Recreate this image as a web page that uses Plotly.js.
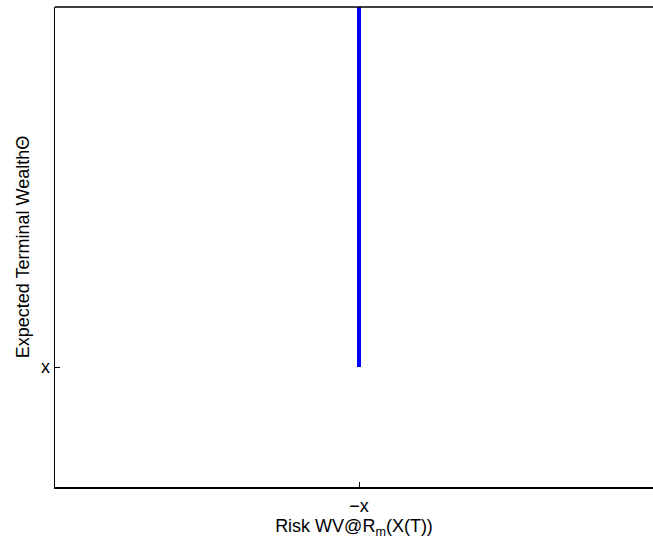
<!DOCTYPE html>
<html>
<head>
<meta charset="utf-8">
<script src="https://cdn.plot.ly/plotly-3.0.1.min.js"></script>
<style>html,body{margin:0;padding:0;background:#fff;}#chart{width:653px;height:540px;}</style>
</head>
<body>
<div id="chart"></div>
<script>
// Data (symbolic axes: the line sits at risk = -x, starting at wealth = x)
const riskValues = [-1, -1];
const wealthValues = [1, 4];
const xTickVals = [-1];
const xTickText = ['\u2212x'];
const yTickVals = [1];
const yTickText = ['x'];

const trace = {
  x: riskValues,
  y: wealthValues,
  type: 'scatter',
  mode: 'lines',
  line: {color: '#0000ff', width: 4},
  hoverinfo: 'skip',
  cliponaxis: false
};

const font = {family: 'Liberation Sans, Arial, Helvetica, sans-serif', size: 18, color: '#000'};

const layout = {
  width: 653,
  height: 540,
  margin: {l: 55, r: 0, t: 7, b: 53, pad: 0},
  paper_bgcolor: '#fff',
  plot_bgcolor: '#fff',
  showlegend: false,
  font: font,
  xaxis: {
    range: [-2, -0.033],
    tickvals: xTickVals,
    ticktext: xTickText,
    ticks: 'inside',
    ticklen: 5,
    tickcolor: '#000',
    tickwidth: 1,
    showline: true,
    linecolor: '#000',
    linewidth: 1.5,
    showgrid: false,
    zeroline: false,
    ticklabelstandoff: 2,
    tickfont: font,
    title: {text: 'Risk WV@R<sub>m</sub>(X(T))', font: font, standoff: 3},
    fixedrange: true
  },
  yaxis: {
    range: [0, 4],
    tickvals: yTickVals,
    ticktext: yTickText,
    ticks: 'inside',
    ticklen: 5,
    tickcolor: '#000',
    tickwidth: 1,
    showline: true,
    linecolor: '#000',
    linewidth: 1.5,
    showgrid: false,
    zeroline: false,
    ticklabelstandoff: 0,
    tickfont: font,
    title: {text: 'Expected Terminal Wealth\u0398', font: font, standoff: 6},
    fixedrange: true
  },
  shapes: [{
    type: 'line', xref: 'paper', yref: 'paper',
    x0: 0, x1: 1, y0: 1, y1: 1,
    line: {color: '#000', width: 1.5}
  }]
};

Plotly.newPlot('chart', [trace], layout, {displayModeBar: false, staticPlot: true});
</script>
</body>
</html>
